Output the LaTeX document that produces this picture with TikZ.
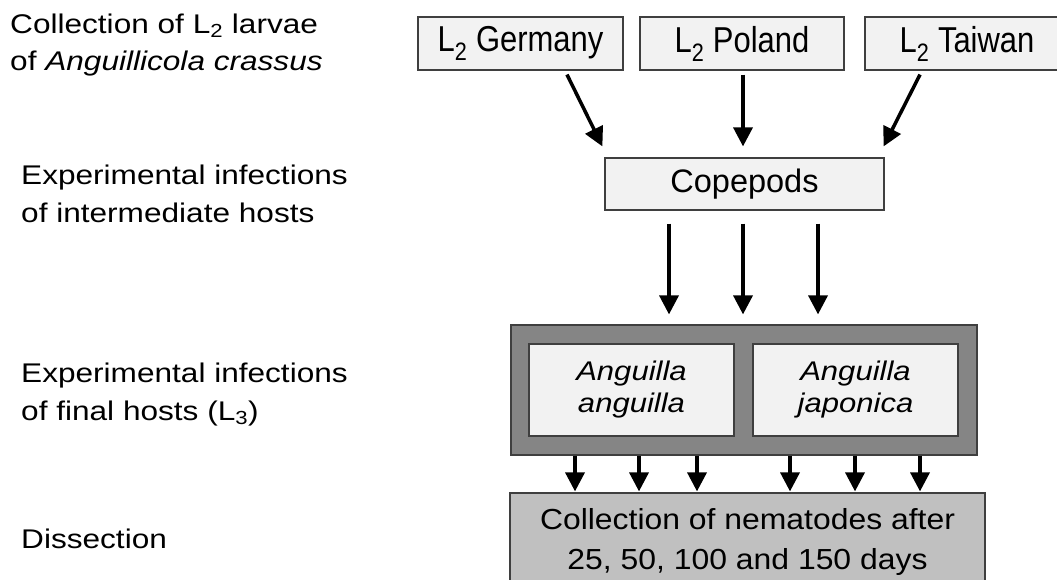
\documentclass[tikz,border=0pt]{standalone}
\usepackage{fontspec}
\setmainfont{Liberation Sans}
\newfontfamily\labfont[FakeStretch=1.17]{Liberation Sans}
\newfontfamily\boxfont[FakeStretch=1.1]{Liberation Sans}
\newfontfamily\inbfont[FakeStretch=1.15]{Liberation Sans}
\newfontfamily\topfont[FakeStretch=0.86]{Liberation Sans}
\usetikzlibrary{arrows.meta,calc}
\definecolor{lightfill}{HTML}{F2F2F2}
\definecolor{boxline}{HTML}{3F3F3F}
\definecolor{outerfill}{HTML}{858585}
\definecolor{botfill}{HTML}{C0C0C0}
\tikzset{
  lab/.style={anchor=base west, inner sep=0pt, font=\labfont\fontsize{27}{37}\selectfont},
  boxbase/.style={draw=boxline, line width=1.2pt, inner sep=0pt, align=center,
     font=\boxfont\fontsize{29}{36}\selectfont},
  lightbox/.style={boxbase, fill=lightfill},
  topbox/.style={lightbox, minimum height=53pt, font=\topfont\fontsize{36}{40}\selectfont},
  arr/.style={line width=3.5pt, draw=black, -{Triangle[length=19pt,width=19pt]}}
}
\begin{document}
\begin{tikzpicture}[x=1pt,y=-1pt]
\useasboundingbox (0,0) rectangle (1057,579);
\fill[white] (0,0) rectangle (1057,579);

% left labels
\node[lab] (l1a) at (10,33) {Collection of L\textsubscript{2} larvae};
\node[lab] (l1b) at (10,70) {of \textit{Anguillicola crassus}};
\node[lab] (l2a) at (21,184) {Experimental infections};
\node[lab] (l2b) at (21,222) {of intermediate hosts};
\node[lab] (l3a) at (21,382) {Experimental infections};
\node[lab] (l3b) at (21,420) {of final hosts (L\textsubscript{3})};
\node[lab] (l4) at (21,548) {Dissection};

% top boxes
\node[topbox, minimum width=205pt] (ger) at (520.5,43.5) {L\textsubscript{2} Germany};
\node[topbox, minimum width=204pt] (pol) at (742,43.5) {L\textsubscript{2} Poland};
\node[topbox, minimum width=204pt] (tai) at (967,43.5) {L\textsubscript{2} Taiwan};

% copepods
\node[lightbox, minimum width=279pt, minimum height=52pt, font=\fontsize{32.5}{36}\selectfont] (cop) at (744.5,184) {Copepods};

% final hosts
\node[boxbase, fill=outerfill, minimum width=466pt, minimum height=130pt] (outer) at (744,390) {};
\node[lightbox, minimum width=205pt, minimum height=92pt, font=\inbfont\fontsize{27}{32}\selectfont] (in1) at (631.5,390) {\itshape Anguilla\\\itshape anguilla};
\node[lightbox, minimum width=205pt, minimum height=92pt, font=\inbfont\fontsize{27}{32}\selectfont] (in2) at (855.5,390) {\itshape Anguilla\\\itshape japonica};

% dissection box
\node[boxbase, fill=botfill, minimum width=475pt, minimum height=97pt, font=\boxfont\fontsize{29}{40}\selectfont] (bot) at (747.5,541.5) {Collection of nematodes after\\25, 50, 100 and 150 days};

% arrows: larvae -> copepods
\draw[arr] ([xshift=46.5pt,yshift=-4pt]ger.south) -- ([xshift=-2pt,yshift=11pt]cop.north west);
\draw[arr] ([xshift=1pt,yshift=-4pt]pol.south) -- ([xshift=-1.5pt,yshift=11pt]cop.north);
\draw[arr] ([xshift=-47pt,yshift=-4pt]tai.south) -- ([xshift=-1pt,yshift=11pt]cop.north east);

% arrows: copepods -> eels
\coordinate (c1) at ($(cop.south)+(-75.5,13)$);
\coordinate (c2) at ($(cop.south)+(-1.5,13)$);
\coordinate (c3) at ($(cop.south)+(73.5,13)$);
\foreach \c in {c1,c2,c3}
  \draw[arr, shorten >=10pt] (\c) -- (\c |- outer.north);

% arrows: eels -> dissection
\coordinate (s1) at ($(outer.south)+(-169,0)$);
\coordinate (s2) at ($(outer.south)+(-105,0)$);
\coordinate (s3) at ($(outer.south)+(-47,0)$);
\coordinate (s4) at ($(outer.south)+(46,0)$);
\coordinate (s5) at ($(outer.south)+(111,0)$);
\coordinate (s6) at ($(outer.south)+(176,0)$);
\foreach \s in {s1,s2,s3,s4,s5,s6}
  \draw[arr, shorten >=1pt] (\s) -- (\s |- bot.north);
\end{tikzpicture}
\end{document}
